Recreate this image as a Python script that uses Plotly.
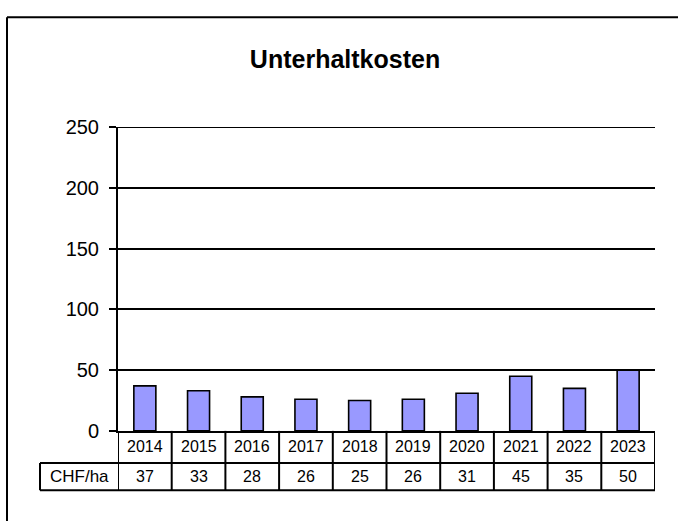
import plotly.graph_objects as go

years = ["2014", "2015", "2016", "2017", "2018", "2019", "2020", "2021", "2022", "2023"]
values = [37, 33, 28, 26, 25, 26, 31, 45, 35, 50]
row_label = "CHF/ha"
title_text = "Unterhaltkosten"
y_ticks = [0, 50, 100, 150, 200, 250]

W, H = 678, 532
def px(x):
    return x / W
def py(y):
    return (H - y) / H

plot_left, plot_right = 118, 655
plot_top, plot_bottom = 121, 438
row1_bottom, row2_bottom = 471.5, 500
label_left = 40

FONT = "Liberation Sans, Arial, sans-serif"

fig = go.Figure()
fig.add_trace(go.Bar(
    x=list(range(len(years))), y=values,
    width=0.41,
    marker=dict(color="#9999FF", line=dict(color="black", width=1.6)),
    hoverinfo="skip",
))

shapes = []
lw = 2
# top gridline at the maximum tick (plotly omits grid at the range edge)
shapes.append(dict(type="line", xref="x domain", yref="y",
                   x0=0, x1=1, y0=max(y_ticks), y1=max(y_ticks),
                   line=dict(color="black", width=lw)))
# horizontal table lines
shapes.append(dict(type="line", xref="paper", yref="paper",
                   x0=px(label_left), x1=px(plot_right), y0=py(row1_bottom), y1=py(row1_bottom),
                   line=dict(color="black", width=lw)))
shapes.append(dict(type="line", xref="paper", yref="paper",
                   x0=px(label_left), x1=px(plot_right), y0=py(row2_bottom), y1=py(row2_bottom),
                   line=dict(color="black", width=lw)))
# left side of label cell
shapes.append(dict(type="line", xref="paper", yref="paper",
                   x0=px(label_left), x1=px(label_left), y0=py(row1_bottom), y1=py(row2_bottom),
                   line=dict(color="black", width=lw)))
# vertical cell boundaries at category edges
for i in range(len(years) + 1):
    shapes.append(dict(type="line", xref="x", yref="paper",
                       x0=i - 0.5, x1=i - 0.5, y0=py(plot_bottom), y1=py(row2_bottom),
                       line=dict(color="black", width=lw)))
# outer border (top and left)
shapes.append(dict(type="line", xref="paper", yref="paper",
                   x0=px(7), x1=1, y0=py(6.5), y1=py(6.5),
                   line=dict(color="black", width=2)))
shapes.append(dict(type="line", xref="paper", yref="paper",
                   x0=px(7), x1=px(7), y0=py(6.5), y1=0,
                   line=dict(color="black", width=2)))

annotations = []
for i, (yr, v) in enumerate(zip(years, values)):
    annotations.append(dict(x=i, xref="x", y=py((plot_bottom + row1_bottom) / 2), yref="paper",
                            text=yr, showarrow=False, xanchor="center", yanchor="middle",
                            font=dict(family=FONT, size=16, color="black")))
    annotations.append(dict(x=i, xref="x", y=py((row1_bottom + row2_bottom) / 2), yref="paper",
                            text=str(v), showarrow=False, xanchor="center", yanchor="middle",
                            font=dict(family=FONT, size=16, color="black")))
annotations.append(dict(x=px((label_left + plot_left) / 2), xref="paper",
                        y=py((row1_bottom + row2_bottom) / 2), yref="paper",
                        text=row_label, showarrow=False, xanchor="center", yanchor="middle",
                        font=dict(family=FONT, size=17, color="black")))

fig.update_layout(
    width=W, height=H,
    margin=dict(l=0, r=0, t=0, b=0),
    paper_bgcolor="white", plot_bgcolor="white",
    showlegend=False,
    title=dict(text="<b>" + title_text + "</b>", x=px(345), y=py(50), xanchor="center", yanchor="middle",
               xref="paper", yref="paper",
               font=dict(family=FONT, size=25, color="black")),
    xaxis=dict(domain=[px(plot_left), px(plot_right)], range=[-0.5, len(years) - 0.5],
               showticklabels=False, ticks="", showgrid=False, zeroline=False,
               showline=True, linecolor="black", linewidth=2, fixedrange=True),
    yaxis=dict(domain=[py(plot_bottom), py(plot_top)], range=[0, 250],
               tickvals=y_ticks, ticktext=[str(t) for t in y_ticks],
               ticks="outside", ticklen=7, tickwidth=2, tickcolor="black",
               showgrid=True, gridcolor="black", gridwidth=2,
               showline=True, linecolor="black", linewidth=2, zeroline=False,
               tickfont=dict(family=FONT, size=20, color="black"),
               ticklabelstandoff=6, fixedrange=True),
    shapes=shapes,
    annotations=annotations,
)

fig.write_html(
    "out.html",
    config={"displayModeBar": False},
    post_script="document.body.style.margin='0';document.body.style.overflow='hidden';",
)
